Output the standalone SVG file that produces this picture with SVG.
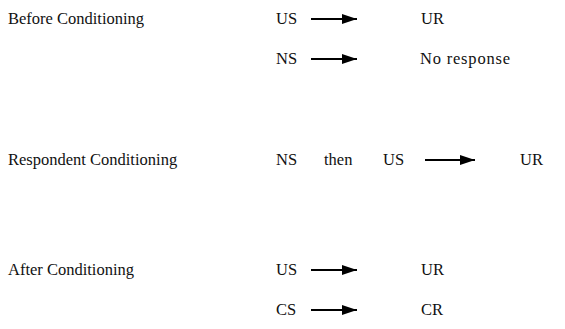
<svg xmlns="http://www.w3.org/2000/svg" width="565" height="329" viewBox="0 0 565 329">
  <style>
    text { font-family: 'Liberation Serif', 'DejaVu Serif', serif; font-size: 16.5px; fill: #111; }
    .wide { letter-spacing: 0.8px; }
    .conn line { stroke: #000; stroke-width: 2; }
  </style>
  <defs>
    <marker id="head" viewBox="0 0 15 10" refX="15" refY="5" markerWidth="15" markerHeight="10" markerUnits="userSpaceOnUse" orient="auto">
      <path d="M0,0 L15,5 L0,10 Z" fill="#000"/>
    </marker>
  </defs>
  <rect width="565" height="329" fill="#fff"/>

  <!-- phase labels -->
  <g id="label-before"><text x="8" y="24">Before Conditioning</text></g>
  <g id="label-respondent"><text x="8" y="165">Respondent Conditioning</text></g>
  <g id="label-after"><text x="8" y="275">After Conditioning</text></g>

  <!-- before conditioning -->
  <g id="before-us"><text x="276" y="24">US</text></g>
  <g id="before-ur"><text x="421" y="24">UR</text></g>
  <g id="before-ns"><text x="276" y="64">NS</text></g>
  <g id="before-none"><text class="wide" x="420" y="64">No response</text></g>

  <!-- pairing -->
  <g id="pair-ns"><text x="276" y="165">NS</text></g>
  <g id="pair-then"><text x="324" y="165">then</text></g>
  <g id="pair-us"><text x="383" y="165">US</text></g>
  <g id="pair-ur"><text x="520" y="165">UR</text></g>

  <!-- after conditioning -->
  <g id="after-us"><text x="276" y="275">US</text></g>
  <g id="after-ur"><text x="421" y="275">UR</text></g>
  <g id="after-cs"><text x="276" y="315">CS</text></g>
  <g id="after-cr"><text x="421" y="315">CR</text></g>

  <g id="connectors" class="conn">
    <line x1="311" y1="19" x2="357" y2="19" marker-end="url(#head)"/>
    <line x1="311" y1="59" x2="357" y2="59" marker-end="url(#head)"/>
    <line x1="425" y1="160" x2="475" y2="160" marker-end="url(#head)"/>
    <line x1="311" y1="270" x2="357" y2="270" marker-end="url(#head)"/>
    <line x1="311" y1="310" x2="357" y2="310" marker-end="url(#head)"/>
  </g>
</svg>
